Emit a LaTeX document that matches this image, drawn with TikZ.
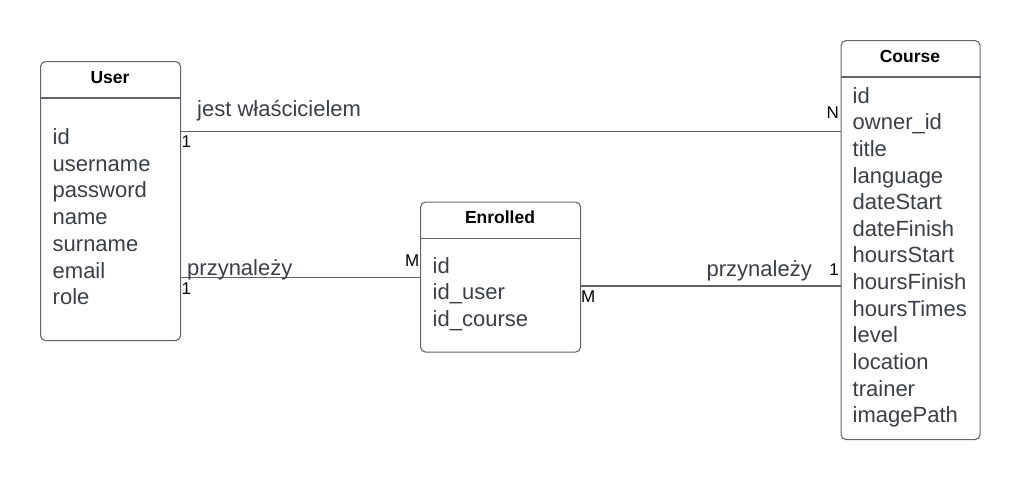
\documentclass[tikz,border=0pt]{standalone}
\usepackage{fontspec}
\setmainfont{Liberation Sans}
\definecolor{txt}{HTML}{3A3F48}
\definecolor{boxc}{HTML}{62666C}
\definecolor{linec}{HTML}{5F6266}
\begin{document}
\begin{tikzpicture}[x=1pt,y=-1pt,
  entity/.style={draw=boxc, line width=1.1pt, rounded corners=5pt, anchor=north west, inner sep=0pt},
  hline/.style={draw=boxc, line width=1.1pt},
  hdr/.style={font=\bfseries\fontsize{17.5}{20}\selectfont, text=black, inner sep=0pt},
  attr/.style={font=\fontsize{22}{26}\selectfont, text=txt, anchor=base west, inner sep=0pt},
  rel/.style={draw=linec, line width=1.1pt},
  relname/.style={font=\fontsize{22}{26}\selectfont, text=txt, inner sep=0pt},
  mult/.style={font=\fontsize{17}{20}\selectfont, text=black, inner sep=0pt}]
\useasboundingbox (0,0) rectangle (1020,480);
\fill[white] (0,0) rectangle (1020,480);

% User
\node[entity, minimum width=140pt, minimum height=279pt] (user) at (40,61) {};
\draw[hline] ([yshift=-37pt]user.north west) -- ([yshift=-37pt]user.north east);
\node[hdr] (userh) at (110,77.5) {User};
\foreach \t [count=\i from 0] in {id,username,password,name,surname,email,role}
  \node[attr] (ua\i) at (52.5,{144.5+26.7*\i}) {\t};

% Course
\node[entity, minimum width=139pt, minimum height=399pt] (course) at (840.5,40) {};
\draw[hline] ([yshift=-37pt]course.north west) -- ([yshift=-37pt]course.north east);
\node[hdr] (courseh) at (910,56.5) {Course};
\foreach \t [count=\i from 0] in {id,owner\_id,title,language,dateStart,dateFinish,hoursStart,hoursFinish,hoursTimes,level,location,trainer,imagePath}
  \node[attr] (ca\i) at (852.5,{103.2+26.63*\i}) {\t};

% Enrolled
\node[entity, minimum width=160pt, minimum height=150pt] (enr) at (420,201.5) {};
\draw[hline] ([yshift=-37pt]enr.north west) -- ([yshift=-37pt]enr.north east);
\node[hdr] (enrh) at (500,217.5) {Enrolled};
\foreach \t [count=\i from 0] in {id,id\_user,id\_course}
  \node[attr] (ea\i) at (432.5,{273.2+26.63*\i}) {\t};

% Connectors
\draw[rel] (user.east |- 0,131.7) -- (course.west |- 0,131.7);
\draw[rel] (user.east |- 0,277.7) -- (enr.west |- 0,277.7);
\draw[rel] (enr.east |- 0,286) -- (course.west |- 0,286);

% Labels
\node[relname, anchor=base west] (l1) at (197,116) {jest właścicielem};
\node[relname, anchor=base west] (l2) at (187,275) {przynależy};
\node[relname, anchor=base east] (l3) at (812,276) {przynależy};

\node[mult, anchor=north west] (m1a) at (181.5,136) {1};
\node[mult, anchor=south east] (m1b) at (839,119) {N};
\node[mult, anchor=south east] (m2a) at (419.5,267) {M};
\node[mult, anchor=north west] (m2b) at (181.5,283) {1};
\node[mult, anchor=south east] (m3a) at (839,276) {1};
\node[mult, anchor=north west] (m3b) at (581,291) {M};
\end{tikzpicture}
\end{document}
